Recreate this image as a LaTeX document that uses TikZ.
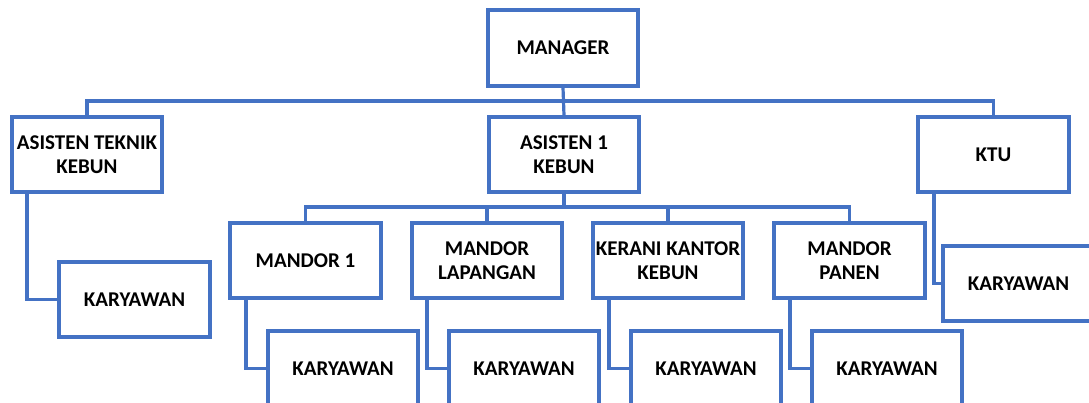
\documentclass[tikz,border=0pt]{standalone}
\usepackage{fontspec}
\setmainfont{Carlito}
\definecolor{orgblue}{HTML}{4472C4}
\begin{document}
\begin{tikzpicture}[x=1pt,y=-1pt,
  box/.style={draw=orgblue,line width=3.2pt,fill=white,inner sep=0pt,
    minimum width=150pt,minimum height=75pt,align=center,
    font=\fontsize{21}{24}\selectfont\bfseries},
  link/.style={draw=orgblue,line width=3.2pt}]
\useasboundingbox (0,0) rectangle (1089,403);
\clip (0,0) rectangle (1089,403);
\coordinate (bus1) at (0,101);
\coordinate (bus2) at (0,207);
\node[box,minimum height=76pt] (manager) at (563,48) {MANAGER};
\node[box] (ateknik) at (87,154.5) {ASISTEN TEKNIK\\KEBUN};
\node[box] (as1) at (564,154.5) {ASISTEN 1\\KEBUN};
\node[box,minimum width=151pt] (ktu) at (993.5,154.5) {KTU};
\node[box,minimum width=151pt] (kar0) at (134.5,299.5) {KARYAWAN};
\node[box,minimum width=151pt] (karktu) at (1018.5,283.5) {KARYAWAN};
\node[box,minimum width=151pt] (mandor1) at (305.5,260.5) {MANDOR 1};
\node[box] (mlap) at (487,260.5) {MANDOR\\LAPANGAN};
\node[box] (kerani) at (668,260.5) {KERANI KANTOR\\KEBUN};
\node[box,minimum width=151pt] (mpanen) at (849.5,260.5) {MANDOR\\PANEN};
\node[box] (k1) at (343,368.5) {KARYAWAN};
\node[box] (k2) at (524,368.5) {KARYAWAN};
\node[box] (k3) at (706,368.5) {KARYAWAN};
\node[box] (k4) at (887,368.5) {KARYAWAN};
% top bus
\draw[link] (manager.south) -- (as1.north);
\draw[link] (ateknik.north) -- (ateknik.north |- bus1) -| (ktu.north);
% second bus
\draw[link] (as1.south) -- (as1.south |- bus2);
\draw[link] (mandor1.north) -- (mandor1.north |- bus2) -| (mpanen.north);
\draw[link] (mlap.north) -- (mlap.north |- bus2);
\draw[link] (kerani.north) -- (kerani.north |- bus2);
% staff links
\draw[link] ([xshift=-60pt]ateknik.south) |- (kar0.west);
\draw[link] ([xshift=-59.5pt]ktu.south) |- (karktu.west);
\draw[link] ([xshift=-59.5pt]mandor1.south) |- (k1.west);
\draw[link] ([xshift=-60pt]mlap.south) |- (k2.west);
\draw[link] ([xshift=-59pt]kerani.south) |- (k3.west);
\draw[link] ([xshift=-59.5pt]mpanen.south) |- (k4.west);
\end{tikzpicture}
\end{document}
